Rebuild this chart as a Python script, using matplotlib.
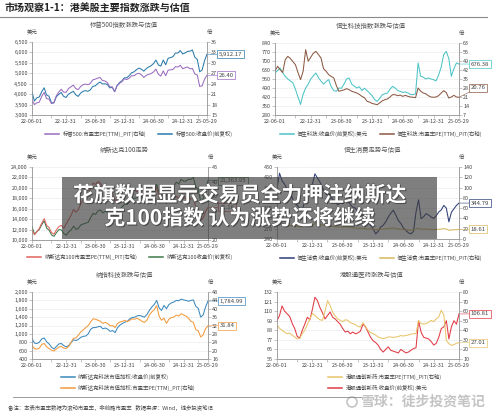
import matplotlib
matplotlib.use('Agg')
import matplotlib.pyplot as plt
import matplotlib.patheffects as pe
from matplotlib.patches import Rectangle, Ellipse
from matplotlib.lines import Line2D
import pandas as pd

plt.rcParams['font.family'] = ['Noto Sans CJK SC', 'DejaVu Sans']
plt.rcParams['axes.unicode_minus'] = False

# 半月频采样, 2022-06-01 ~ 2025-05-29
dates = pd.date_range('2022-06-01', '2025-05-29', periods=73)

tick_dates = pd.to_datetime(['2022-06-01', '2022-09-30', '2022-12-31', '2023-03-31', '2023-06-30',
                             '2023-09-30', '2023-12-31', '2024-03-31', '2024-06-30', '2024-09-30',
                             '2024-12-31', '2025-03-31', '2025-05-29'])
tick_labels = ['22-06-01', '', '22-12-31', '', '23-06-30', '', '23-12-31', '',
               '24-06-30', '', '24-12-31', '', '25-05-29']

# 标普500
spx_close = [4100, 3670, 3825, 3863, 4118, 4305, 3955, 3901, 3586, 3583,
             3872, 3992, 4080, 3895, 3840, 3999, 4070, 4137, 3970, 3892,
             4050, 4137, 4169, 4136, 4205, 4372, 4396, 4505, 4582, 4489,
             4497, 4467, 4300, 4327, 4117, 4415, 4550, 4643, 4783, 4783,
             4891, 5026, 5069, 5175, 5248, 5199, 5100, 5222, 5304, 5360,
             5469, 5633, 5400, 5344, 5634, 5408, 5718, 5751, 5797, 5973,
             5969, 6090, 5930, 5975, 6049, 6061, 6117, 5770, 5667, 5074,
             5158, 5607, 5912.17]
spx_pe = [19.4, 18.0, 18.5, 18.7, 20.4, 21.5, 19.7, 19.6, 18.3, 18.5,
          20.5, 21.6, 22.4, 21.6, 21.5, 22.6, 23.1, 23.6, 22.6, 22.3,
          23.2, 23.7, 23.9, 23.7, 24.1, 25.1, 25.3, 25.6, 25.8, 24.9,
          24.8, 24.3, 23.1, 23.1, 21.7, 23.4, 24.1, 24.6, 25.4, 25.2,
          25.6, 26.3, 26.3, 26.8, 27.0, 26.6, 25.8, 26.4, 26.7, 26.9,
          27.4, 28.2, 26.7, 26.2, 27.7, 26.3, 27.9, 28.0, 28.1, 28.9,
          28.8, 29.3, 28.3, 28.6, 28.8, 28.3, 28.4, 26.8, 26.5, 23.2,
          23.4, 25.3, 26.40]

# 恒生科技
hst_close = [607, 625, 646, 610, 581, 560, 545, 530, 480, 420,
             362, 440, 490, 520, 560, 585, 607, 570, 544, 520,
             540, 555, 500, 470, 464, 490, 488, 520, 560, 568,
             520, 505, 490, 500, 470, 488, 470, 451, 430, 400,
             386, 410, 438, 445, 451, 480, 503, 490, 470, 464,
             455, 460, 451, 440, 438, 445, 685, 581, 575, 560,
             568, 560, 555, 545, 590, 650, 749, 775, 720, 581,
             640, 685, 676.38]
hst_pe = [41.0, 44.9, 42.2, 40.0, 50.0, 52.6, 51.0, 48.5, 46.1, 40.0,
          34.5, 41.0, 57.8, 48.8, 52.0, 55.0, 56.5, 54.0, 51.3, 43.0,
          41.0, 38.4, 37.0, 35.8, 30.0, 25.4, 26.0, 26.5, 27.5, 26.7,
          25.5, 24.8, 24.1, 23.0, 21.5, 20.5, 17.7, 17.0, 16.0, 15.5,
          15.0, 16.5, 18.0, 18.9, 19.5, 21.0, 22.8, 22.8, 22.0, 22.5,
          21.5, 22.3, 21.5, 21.0, 20.8, 20.5, 28.0, 25.5, 24.1, 23.5,
          22.0, 21.0, 20.8, 21.0, 22.0, 24.0, 25.9, 24.5, 20.2, 21.0,
          22.3, 21.0, 20.76]

# 纳斯达克100
ndx_close = [12600, 11130, 11600, 12040, 12950, 13660, 12270, 11860, 10970, 10700,
             11400, 11980, 11950, 11250, 10940, 11540, 11950, 12650, 12040, 12250,
             12900, 13080, 13250, 13400, 14300, 15100, 14900, 15560, 15750, 15200,
             15500, 15340, 14700, 14990, 14180, 15480, 15980, 16400, 16880, 16830,
             17420, 17960, 17990, 18110, 18280, 18300, 17720, 18160, 18800, 19080,
             19700, 20670, 18880, 18510, 19720, 18420, 19850, 20200, 20200, 21100,
             20740, 21620, 21290, 21300, 21670, 21600, 22000, 20200, 19750, 17400,
             17800, 19790, 21363.95]
ndx_pe = [23.4, 21.8, 22.8, 24.0, 25.8, 27.3, 25.0, 24.2, 22.5, 22.0,
          23.5, 24.6, 25.0, 24.0, 25.5, 27.0, 28.5, 30.5, 29.5, 30.5,
          32.5, 33.7, 34.5, 35.3, 37.5, 39.5, 39.0, 40.0, 39.5, 37.5,
          38.0, 37.2, 35.0, 35.5, 33.0, 35.0, 36.0, 36.5, 37.5, 37.0,
          37.5, 38.0, 37.0, 36.5, 36.5, 36.0, 34.5, 35.0, 35.5, 35.5,
          36.5, 38.0, 34.5, 33.5, 35.0, 32.5, 34.5, 34.8, 34.5, 35.0,
          34.2, 35.5, 34.5, 34.2, 34.5, 34.0, 34.3, 31.2, 30.5, 26.8,
          27.5, 29.8, 31.16]

# 恒生消费
hsc_close = [387, 432, 410, 400, 385, 380, 360, 345, 338, 330,
             325, 350, 380, 395, 400, 430, 418, 406, 390, 375,
             367, 370, 355, 348, 340, 345, 343, 350, 355, 340,
             333, 330, 320, 318, 309, 300, 290, 280, 270, 255,
             262, 275, 280, 290, 304, 315, 324, 310, 294, 285,
             272, 265, 258, 255, 262, 319, 354, 299, 305, 314,
             310, 304, 300, 308, 319, 325, 338, 330, 290, 318,
             328, 338, 344.79]
hsc_pe = [26, 29, 28, 27.5, 27, 26.5, 25.5, 25, 24.5, 24,
          23.5, 25, 26.5, 27.5, 28, 30, 29, 28, 27, 26,
          25.5, 25.5, 24.5, 24, 23.5, 23.5, 23, 23.5, 23.5, 22.5,
          22, 21.5, 21, 21, 20.5, 20, 19.5, 19.5, 19, 18,
          18.5, 19, 19.5, 20, 20.5, 21, 21.5, 20.5, 19.5, 19,
          18.5, 18, 17.5, 17, 17.5, 19.5, 21, 19, 19, 19.5,
          19, 18.5, 18, 18.5, 19, 19.5, 20, 19.5, 17, 17.5,
          18, 18.3, 18.61]

# 纳指科技
nqt_close = [885, 780, 770, 800, 880, 900, 810, 760, 680, 640,
             700, 760, 770, 720, 690, 720, 790, 860, 840, 870,
             920, 940, 950, 1000, 1110, 1150, 1150, 1170, 1180, 1120,
             1140, 1110, 1060, 1080, 1030, 1150, 1210, 1250, 1280, 1300,
             1360, 1390, 1400, 1430, 1440, 1420, 1400, 1460, 1560, 1640,
             1700, 1800, 1620, 1560, 1680, 1600, 1700, 1740, 1760, 1800,
             1790, 1830, 1810, 1800, 1780, 1800, 1810, 1660, 1610, 1400,
             1450, 1640, 1784.99]
nqt_pe = [22.5, 20.9, 20.7, 21.2, 23.0, 23.4, 21.8, 21.0, 20.2, 19.8,
          20.8, 21.7, 22.0, 21.2, 21.0, 22.0, 24.0, 26.0, 26.0, 27.5,
          29.0, 30.0, 31.0, 32.0, 33.7, 35.2, 35.0, 34.5, 34.0, 33.0,
          33.5, 32.9, 31.8, 32.0, 31.0, 33.0, 33.7, 34.0, 34.5, 33.8,
          34.5, 35.2, 35.0, 35.5, 34.8, 34.0, 33.5, 34.5, 37.0, 38.5,
          39.5, 41.5, 36.5, 34.5, 35.5, 33.0, 35.0, 35.8, 36.0, 37.0,
          36.5, 37.6, 37.0, 36.5, 35.5, 34.0, 33.5, 30.0, 29.5, 26.5,
          27.5, 30.5, 31.84]

# 港股通创新药
hkp_close = [99, 105, 116, 110, 107, 104, 96, 90, 81, 79,
             88, 95, 103, 100, 112, 126, 122, 114, 108, 101,
             105, 109, 103, 101, 98, 95, 90, 86, 87, 84,
             86, 84, 85, 87, 95, 92, 86, 80, 76, 74,
             71, 66, 63, 66, 69, 65, 64, 63, 62, 66,
             64, 62, 63, 65, 67, 68, 99, 86, 80, 79,
             78, 75, 71, 73, 80, 90, 92, 99, 78, 92,
             99, 95, 106.81]
hkp_pe = [46, 42, 40, 38, 36.5, 37, 35, 33, 31, 31.5,
          36.5, 40, 46, 52, 57.5, 55.7, 53, 51, 50.4, 60,
          71, 66, 59, 55, 52, 50.4, 49, 51, 50.4, 48,
          47, 46, 44, 43.4, 48, 44, 40, 37.5, 36.5, 35,
          33, 32, 31.2, 32, 33, 33, 32.5, 33, 33.5, 34.5,
          34, 34.7, 35, 36, 36.5, 36.5, 50.4, 47, 46.5, 47,
          48.5, 50.4, 49, 52, 54, 61, 56, 29.5, 26, 24.3,
          25, 26.5, 27.01]

fig = plt.figure(figsize=(5, 4.18), dpi=100)
W, H = 500, 418
fs = 3.9
txt_c = '#444444'


def box(x0, y0, x1, y1):
    return [x0 / W, 1 - y1 / H, (x1 - x0) / W, (y1 - y0) / H]


def panel(rect, title, price, pe_vals, c_price, c_pe, n_price, n_pe,
          lticks, lfmt, rticks, pe_first, leg_x, leg_y, ncol,
          price_txt, pe_txt, pe_shift=0):
    ax = fig.add_axes(rect)
    ax2 = ax.twinx()
    ax.plot(dates, price, color=c_price, lw=0.75, zorder=3)
    ax2.plot(dates, pe_vals, color=c_pe, lw=0.75)
    ax.set_xlim(dates[0], dates[-1])
    ax.set_ylim(lticks[0], lticks[-1])
    ax.set_yticks(lticks)
    ax.set_yticklabels([lfmt.format(v) for v in lticks])
    ax2.set_ylim(rticks[0], rticks[-1])
    ax2.set_yticks(rticks)
    ax2.set_yticklabels([f'{v:g}' for v in rticks])
    ax.set_xticks(tick_dates)
    ax.set_xticklabels(tick_labels)
    ax.grid(axis='y', color='#d4d4d4', lw=0.4, ls=(0, (1.5, 1.5)))
    ax.set_axisbelow(True)
    for a in (ax, ax2):
        a.spines['top'].set_visible(False)
        for s in ('left', 'right', 'bottom'):
            a.spines[s].set_color('#9a9a9a')
            a.spines[s].set_linewidth(0.5)
        a.tick_params(labelsize=fs, color='#9a9a9a', labelcolor=txt_c,
                      length=2, width=0.4, pad=1)

    ax.annotate('美元', xy=(0, 1), xycoords='axes fraction', xytext=(0, 6.5),
                textcoords='offset points', ha='center', va='center',
                fontsize=fs, color=txt_c)
    ax.annotate('倍', xy=(1, 1), xycoords='axes fraction', xytext=(2, 6.5),
                textcoords='offset points', ha='center', va='center',
                fontsize=fs, color=txt_c)
    ax.annotate(title, xy=(0.5, 1), xycoords='axes fraction', xytext=(3, 12.5),
                textcoords='offset points', ha='center', va='center',
                fontsize=4.6, color='#555555')

    for a, v, t, c, dy in ((ax, price[-1], price_txt, c_price, 0),
                           (ax2, pe_vals[-1], pe_txt, c_pe, pe_shift)):
        a.annotate(t, xy=(dates[-1], v), xytext=(8.5, dy),
                   textcoords='offset points', ha='left', va='center',
                   fontsize=4.3, color=txt_c, annotation_clip=False,
                   bbox=dict(boxstyle='square,pad=0.25', fc='white', ec=c, lw=0.5),
                   arrowprops=dict(arrowstyle='-', color=c, lw=0.4,
                                   shrinkA=0, shrinkB=0))

    h_price = Line2D([], [], color=c_price, lw=1.1)
    h_pe = Line2D([], [], color=c_pe, lw=1.1)
    if pe_first:
        handles, labels = [h_pe, h_price], [n_pe, n_price]
    else:
        handles, labels = [h_price, h_pe], [n_price, n_pe]
    fig.legend(handles, labels, loc='center', bbox_to_anchor=(leg_x / W, 1 - leg_y / H),
               ncol=ncol, frameon=False, fontsize=fs, handlelength=2.6,
               handletextpad=0.6, columnspacing=2.2, labelspacing=0.9,
               labelcolor=txt_c, borderpad=0)


panel(box(32, 42, 207, 115), '标普500指数涨跌与估值', spx_close, spx_pe,
      '#2b7bab', '#9a6cc0', '标普500:收盘价(前复权)', '标普500:市盈率PE(TTM)_PIT(右轴)',
      list(range(3000, 6501, 500)), '{:,}', list(range(15, 37, 3)), True, 139, 134, 2,
      '5,912.17', '26.40')

panel(box(275, 43, 459, 115), '恒生科技指数涨跌与估值', hst_close, hst_pe,
      '#4cc4c6', '#8c5a44', '恒生科技:收盘价(前复权):美元', '恒生科技:市盈率PE(TTM)_PIT(右轴)',
      list(range(280, 841, 70)), '{:d}', list(range(7, 64, 7)), False, 381, 134, 2,
      '676.38', '20.76', pe_shift=7)

panel(box(32, 167, 208, 240), '纳斯达克100走势', ndx_close, ndx_pe,
      '#3d7a4a', '#e0635f', '纳斯达克100收盘价(前复权)', '纳斯达克100市盈率PE(TTM)_PIT(右轴)',
      list(range(10000, 24001, 2000)), '{:,}', list(range(20, 46, 5)), True, 130, 257, 2,
      '21,363.95', '31.16')

panel(box(277, 167, 459, 239), '恒生消费走势与估值', hsc_close, hsc_pe,
      '#2f3f78', '#d6b95c', '恒生消费:收盘价(前复权):美元', '恒生消费:市盈率PE(TTM)_PIT(右轴)',
      list(range(240, 451, 30)), '{:d}', list(range(0, 141, 20)), False, 381, 258, 2,
      '344.79', '18.61')

panel(box(32, 292, 208, 359), '纳指科技涨跌与估值', nqt_close, nqt_pe,
      '#3b88bd', '#f39a3c', '纳斯达克科技市值加权:收盘价(前复权)',
      '纳斯达克科技市值加权:市盈率PE(TTM)_PIT(右轴)',
      list(range(400, 2001, 200)), '{:,}', list(range(16, 49, 4)), False, 128, 382, 1,
      '1,784.99', '31.84')

panel(box(277, 292, 459, 359), '港股通医药涨跌与估值', hkp_close, hkp_pe,
      '#e03a45', '#e9c46a', '港股通创新药:收盘价(前复权):美元',
      '港股通创新药:市盈率PE(TTM)_PIT(右轴)',
      list(range(55, 133, 11)), '{:d}', list(range(10, 81, 10)), True, 385, 382, 1,
      '106.81', '27.01')

# 页眉
fig.text(5 / W, 1 - 9 / H, '市场观察1-1：港美股主要指数涨跌与估值', fontsize=7.2,
         fontweight='bold', color='#222222', va='center', ha='left')
fig.add_artist(Line2D([0, 487 / W], [1 - 16.5 / H] * 2, color='#8a8a8a', lw=0.8))

# 页脚
fig.add_artist(Line2D([13 / W, 373 / W], [1 - 397 / H] * 2, color='#8a8a8a', lw=0.6))
fig.text(8 / W, 1 - 407 / H, '备注：本表市盈率数据为滚动市盈率，非前瞻市盈率   数据来源：Wind，徒步投资笔记',
         fontsize=3.9, color=txt_c, va='center', ha='left')

# 水印
fig.add_artist(Ellipse((352 / W, 1 - 402 / H), 10 / W, 10 / H, fill=False,
                       ec='#c4c4c4', lw=1.2))
fig.text(360 / W, 1 - 402 / H, '雪球：徒步投资笔记', fontsize=10, color='#c4c4c4',
         fontweight='bold', va='center', ha='left')

# 标题横幅
fig.add_artist(Rectangle((62 / W, 1 - 239 / H), 375 / W, 62 / H, transform=fig.transFigure,
                         fc='#3a3a3a', ec='none', alpha=0.65, zorder=10))
shadow = [pe.withSimplePatchShadow(offset=(0.8, -0.8), shadow_rgbFace='#222222', alpha=0.6),
          pe.Stroke(linewidth=0.8, foreground='#555555'), pe.Normal()]
fig.text(0.48, 1 - 195 / H, '花旗数据显示交易员全力押注纳斯达', fontsize=15, color='white',
         fontweight='bold', ha='center', va='center', zorder=11, path_effects=shadow)
fig.text(0.48, 1 - 218 / H, '克100指数 认为涨势还将继续', fontsize=15, color='white',
         fontweight='bold', ha='center', va='center', zorder=11, path_effects=shadow)

fig.savefig('out.png', dpi=100, facecolor='white')
